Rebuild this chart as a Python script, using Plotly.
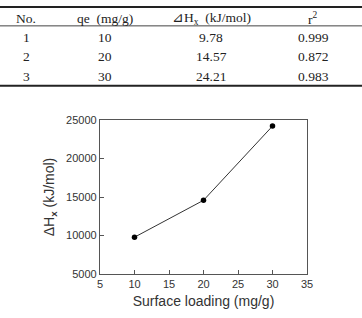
import plotly.graph_objects as go

# ---- data ----
loading = [10, 20, 30]
enthalpy = [9780, 14570, 24210]

table_headers = ["No.", "qe  (mg/g)", "⊿H<sub>x</sub>  (kJ/mol)", "r<sup>2</sup>"]
table_no = ["1", "2", "3"]
table_qe = ["10", "20", "30"]
table_dh = ["9.78", "14.57", "24.21"]
table_r2 = ["0.999", "0.872", "0.983"]

W, H = 362, 318
L, R, T, B = 100, 55, 119.5, 39
PW, PH = W - L - R, H - T - B

def px(x):
    return (x - L) / PW

def py(y):
    return (H - B - y) / PH

fig = go.Figure()
fig.add_trace(go.Scatter(
    x=loading, y=enthalpy, mode="lines+markers",
    line=dict(color="#333333", width=1),
    marker=dict(color="black", size=5.5),
    showlegend=False,
))

axis_common = dict(
    showgrid=False, zeroline=False, showline=True, mirror=True,
    linecolor="#555555", linewidth=1.2,
    ticks="inside", ticklen=4, tickcolor="#555555",
    tickfont=dict(family="Liberation Sans, Arial", size=11, color="#333333"),
)

fig.update_xaxes(range=[5, 35], tickvals=[5, 10, 15, 20, 25, 30, 35],
                 title=dict(text="Surface loading (mg/g)",
                            font=dict(family="Liberation Sans, Arial", size=14, color="#333333"),
                            standoff=6),
                 **axis_common)
fig.update_yaxes(range=[5000, 25000], tickvals=[5000, 10000, 15000, 20000, 25000],
                 tickformat="d",
                 title=dict(text="ΔH<sub><b>x</b></sub> (kJ/mol)",
                            font=dict(family="Liberation Sans, Arial", size=14, color="#333333"),
                            standoff=8),
                 **axis_common)

# ---- table ----
col_x = [26, 105, 211, 313]
row_y = [14, 34, 54, 74]
serif = dict(family="Liberation Serif, Times New Roman, DejaVu Serif", size=13.5, color="#222222")
anns = []
for cx, htxt in zip(col_x, table_headers):
    anns.append(dict(x=px(cx), y=py(row_y[0]), text=htxt, showarrow=False,
                     xref="paper", yref="paper", xanchor="center", yanchor="middle", font=serif))
for cx, col in zip(col_x, [table_no, table_qe, table_dh, table_r2]):
    for ry, val in zip(row_y[1:], col):
        anns.append(dict(x=px(cx), y=py(ry), text=val, showarrow=False,
                         xref="paper", yref="paper", xanchor="center", yanchor="middle", font=serif))

shapes = [
    dict(type="line", xref="paper", yref="paper", x0=px(0), x1=px(W), y0=py(2.5), y1=py(2.5),
         line=dict(color="#222222", width=2)),
    dict(type="line", xref="paper", yref="paper", x0=px(0), x1=px(W), y0=py(22), y1=py(22),
         line=dict(color="#444444", width=1)),
    dict(type="line", xref="paper", yref="paper", x0=px(0), x1=px(W), y0=py(84), y1=py(84),
         line=dict(color="#222222", width=2)),
]

fig.update_layout(
    width=W, height=H,
    margin=dict(l=L, r=R, t=T, b=B),
    paper_bgcolor="white", plot_bgcolor="white",
    annotations=anns, shapes=shapes,
)

fig.write_html("out.html")
